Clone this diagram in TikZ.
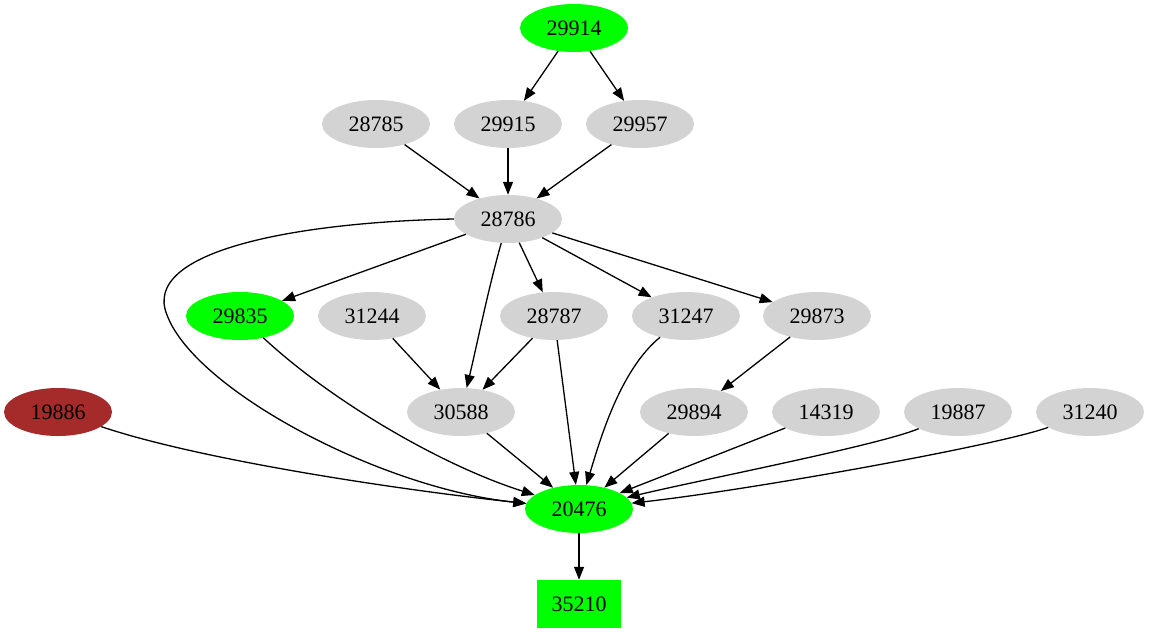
\documentclass[tikz,border=0pt]{standalone}
\usepackage{fontspec}
\setmainfont{Liberation Serif}
\usetikzlibrary{shapes.geometric,arrows.meta}
\definecolor{gvgreen}{HTML}{00FF00}
\definecolor{gvgray}{HTML}{D3D3D3}
\definecolor{gvbrown}{HTML}{A52A2A}
\tikzset{
  gnode/.style={ellipse, minimum width=108pt, minimum height=48pt, inner sep=0pt, font=\fontsize{22}{26}\selectfont},
  grey/.style={gnode, fill=gvgray},
  grn/.style={gnode, fill=gvgreen},
  brn/.style={gnode, fill=gvbrown},
  sq/.style={rectangle, fill=gvgreen, minimum width=84pt, minimum height=48pt, inner sep=0pt, font=\fontsize{22}{26}\selectfont},
  arr/.style={-{Triangle[length=13pt,width=10pt]}, line width=1.3pt, black}
}
\begin{document}
\begin{tikzpicture}[x=1pt,y=-1pt]
\useasboundingbox (0,0) rectangle (1150,635);
\node[grn]  (n29914) at (574,28)  {29914};
\node[grey] (n28785) at (376,124) {28785};
\node[grey] (n29915) at (508,124) {29915};
\node[grey] (n29957) at (640,124) {29957};
\node[grey] (n28786) at (508,219) {28786};
\node[grn]  (n29835) at (240,316) {29835};
\node[grey] (n31244) at (372,316) {31244};
\node[grey] (n28787) at (554,316) {28787};
\node[grey] (n31247) at (686,316) {31247};
\node[grey] (n29873) at (817,316) {29873};
\node[brn]  (n19886) at (58,412)  {19886};
\node[grey] (n30588) at (461,412) {30588};
\node[grey] (n29894) at (694,412) {29894};
\node[grey] (n14319) at (826,412) {14319};
\node[grey] (n19887) at (958,412) {19887};
\node[grey] (n31240) at (1090,412) {31240};
\node[grn]  (n20476) at (579,509) {20476};
\node[sq]   (n35210) at (579,604) {35210};

\draw[arr] (n29914) -- (n29915);
\draw[arr] (n29914) -- (n29957);
\draw[arr] (n28785) -- (n28786);
\draw[arr] (n29915) -- (n28786);
\draw[arr] (n29957) -- (n28786);
\draw[arr] (n28786) -- (n29835);
\draw[arr] (n28786) -- (n28787);
\draw[arr] (n28786) -- (n31247);
\draw[arr] (n28786) -- (n29873);
\draw[arr] (n28786) .. controls (488,290) and (478,340) .. (n30588);
\draw[arr] (n28786.west) .. controls (300,222) and (140,250) .. (167,315)
                         .. controls (195,390) and (380,488) .. (n20476);
\draw[arr] (n31244) -- (n30588);
\draw[arr] (n28787) -- (n30588);
\draw[arr] (n28787) -- (n20476);
\draw[arr] (n29835) .. controls (330,400) and (440,465) .. (n20476);
\draw[arr] (n31247) .. controls (620,370) and (600,440) .. (n20476);
\draw[arr] (n29873) -- (n29894);
\draw[arr] (n19886) .. controls (200,460) and (400,490) .. (n20476);
\draw[arr] (n30588) -- (n20476);
\draw[arr] (n29894) -- (n20476);
\draw[arr] (n14319) -- (n20476);
\draw[arr] (n19887) .. controls (880,445) and (700,480) .. (n20476);
\draw[arr] (n31240) .. controls (1000,445) and (750,490) .. (n20476);
\draw[arr] (n20476) -- (n35210);
\end{tikzpicture}
\end{document}
